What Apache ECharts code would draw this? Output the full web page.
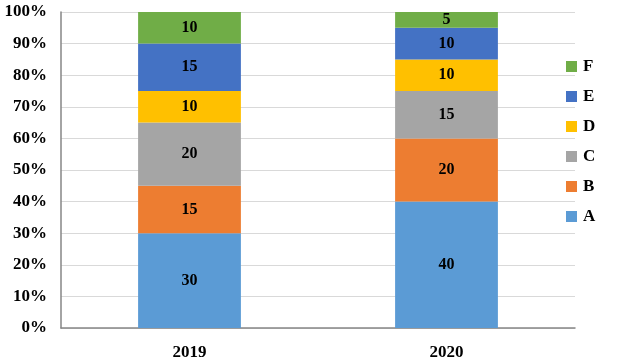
<!DOCTYPE html>
<html><head><meta charset="utf-8">
<script src="https://cdn.jsdelivr.net/npm/echarts@6/dist/echarts.min.js"></script>
<style>html,body{margin:0;padding:0;background:#fff}#c{width:628px;height:361px}</style>
</head><body><div id="c"></div>
<script>
const categories = ['2019', '2020'];
const seriesNames = ['A', 'B', 'C', 'D', 'E', 'F'];
const A = [30, 40];
const B = [15, 20];
const C = [20, 15];
const D = [10, 10];
const E = [15, 10];
const F = [10, 5];
const yTicks = [0, 10, 20, 30, 40, 50, 60, 70, 80, 90, 100];
const colors = ['#5B9BD5', '#ED7D31', '#A5A5A5', '#FFC000', '#4472C4', '#70AD47'];
const values = [A, B, C, D, E, F];
const font = '"Liberation Serif", "Times New Roman", serif';

const chart = echarts.init(document.getElementById('c'));
chart.setOption({
  animation: false,
  grid: {left: 61, right: 53, top: 12, bottom: 33},
  legend: {
    orient: 'vertical', left: 566, top: 58, padding: 0,
    data: ['F', 'E', 'D', 'C', 'B', 'A'],
    itemWidth: 11, itemHeight: 11, itemGap: 13,
    icon: 'rect',
    textStyle: {fontFamily: font, fontWeight: 'bold', fontSize: 17, color: '#000', padding: [0,0,0,1]}
  },
  xAxis: {
    type: 'category', data: categories,
    axisLine: {lineStyle: {color: '#868686', width: 1.5}},
    axisTick: {show: false},
    axisLabel: {fontFamily: font, fontWeight: 'bold', fontSize: 17, color: '#000', margin: 16}
  },
  yAxis: {
    type: 'value', min: 0, max: 100, interval: 10,
    axisLine: {show: true, lineStyle: {color: '#868686', width: 1.5}},
    axisTick: {show: false},
    splitLine: {lineStyle: {color: '#d9d9d9', width: 1}},
    axisLabel: {fontFamily: font, fontWeight: 'bold', fontSize: 17, color: '#000', margin: 14,
      formatter: v => yTicks.includes(v) ? v + '%' : ''}
  },
  series: seriesNames.map((n, i) => ({
    name: n, type: 'bar', stack: 'total', data: values[i], barWidth: '40%',
    itemStyle: {color: colors[i]},
    label: {show: true, position: 'inside', fontFamily: font, fontWeight: 'bold', fontSize: 16, color: '#000'}
  }))
});
</script></body></html>
